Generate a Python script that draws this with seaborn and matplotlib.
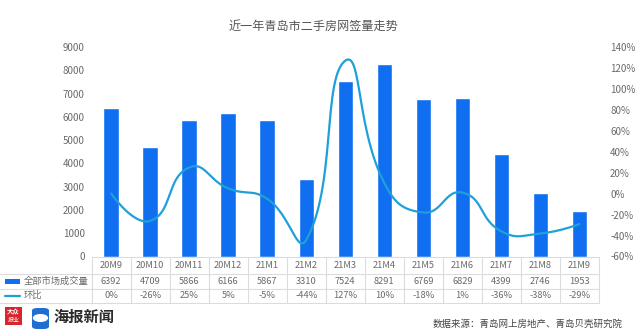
import numpy as np
import pandas as pd
import matplotlib
matplotlib.use("Agg")
import matplotlib.pyplot as plt
import seaborn as sns
from matplotlib.lines import Line2D
from matplotlib.patches import Rectangle, FancyBboxPatch, Circle

# ---- data -------------------------------------------------------------
months = ["20M9", "20M10", "20M11", "20M12", "21M1", "21M2", "21M3",
          "21M4", "21M5", "21M6", "21M7", "21M8", "21M9"]
volumes = [6392, 4709, 5866, 6166, 5867, 3310, 7524, 8291, 6769, 6829, 4399, 2746, 1953]
mom_pct = [0, -26, 25, 5, -5, -44, 127, 10, -18, 1, -36, -38, -29]
left_ticks = list(range(0, 10000, 1000))
right_ticks = list(range(-60, 160, 20))
series_names = ["全部市场成交量", "环比"]
title = "近一年青岛市二手房网签量走势"
source = "数据来源：青岛网上房地产、青岛贝壳研究院"

BAR = "#0f6ff0"
LINE = "#1fa0d8"
GRID = "#dcdcdc"
TXT = "#6a6a6a"

sns.set_theme(style="white")
plt.rcParams["font.family"] = ["Noto Sans CJK SC", "DejaVu Sans"]

W, H = 640, 335
fig = plt.figure(figsize=(W / 100, H / 100), dpi=100)
fig.patch.set_facecolor("white")


def fx(px):
    return px / W


def fy(py):
    return 1 - py / H


# plot area in pixel coordinates
x0, x1 = 91.7, 599.0
ytop, ybot = 47.0, 256.5
ax = fig.add_axes([fx(x0), fy(ybot), fx(x1) - fx(x0), fy(ytop) - fy(ybot)])

df = pd.DataFrame({"month": months, "volume": volumes, "pct": mom_pct})
sns.barplot(data=df, x="month", y="volume", color=BAR, saturation=1,
            width=0.4, ax=ax)
ax.set_xlim(-0.5, len(months) - 0.5)
ax.set_ylim(0, 9000)
ax.set_yticks(left_ticks)
ax.set_yticklabels([str(t) for t in left_ticks])
ax.set_xticks([])
ax.set_xlabel("")
ax.set_ylabel("")
ax.tick_params(axis="y", length=0, pad=5, labelsize=7, labelcolor=TXT)
for s in ax.spines.values():
    s.set_visible(False)

ax2 = ax.twinx()
ax2.set_ylim(-60, 140)
ax2.set_xlim(-0.5, len(months) - 0.5)
ax2.set_yticks(right_ticks)
ax2.set_yticklabels([f"{t}%" for t in right_ticks])
ax2.tick_params(axis="y", length=0, pad=8, labelsize=7, labelcolor=TXT)
for s in ax2.spines.values():
    s.set_visible(False)


def smooth_curve(xs, ys, trans, smooth=0.5, n=30):
    """Bezier-smoothed polyline through the points, built in screen space."""
    pts = trans.transform(np.column_stack([xs, ys]))
    cp0 = pts.copy()
    cp1 = pts.copy()
    for i in range(1, len(pts) - 1):
        prev, cur, nxt = pts[i - 1], pts[i], pts[i + 1]
        v = nxt - prev
        l0 = np.hypot(*(cur - prev))
        l1 = np.hypot(*(nxt - cur))
        r = l1 / (l0 + l1)
        cp0[i] = cur - v * smooth * (1 - r)
        cp1[i] = cur + v * smooth * r
    t = np.linspace(0, 1, n)[:, None]
    out = []
    for i in range(len(pts) - 1):
        p0, p1, p2, p3 = pts[i], cp1[i], cp0[i + 1], pts[i + 1]
        seg = ((1 - t) ** 3) * p0 + 3 * ((1 - t) ** 2) * t * p1 \
            + 3 * (1 - t) * t ** 2 * p2 + t ** 3 * p3
        out.append(seg if i == 0 else seg[1:])
    out = np.vstack(out)
    return trans.inverted().transform(out)


curve = smooth_curve(np.arange(len(months)), np.array(mom_pct, float), ax2.transData)
sns.lineplot(x=curve[:, 0], y=curve[:, 1], sort=False, estimator=None,
             color=LINE, linewidth=1.6, ax=ax2)
ax2.set_ylabel("")

# ---- title ------------------------------------------------------------
fig.text(fx(313), fy(26), title, ha="center", va="center",
         fontsize=8.7, color="#555555")

# ---- data table under the axis -----------------------------------------
cw = (x1 - x0) / len(months)
row_lines = [257.0, 274.0, 288.5, 303.0]
row_centers = [(row_lines[i] + row_lines[i + 1]) / 2 for i in range(3)]

for y in row_lines:
    fig.add_artist(Line2D([fx(0 if y > 258 else x0), fx(x1)], [fy(y), fy(y)],
                          color=GRID, linewidth=0.8))
for k in range(len(months) + 1):
    xx = x0 + k * cw
    fig.add_artist(Line2D([fx(xx), fx(xx)], [fy(row_lines[0]), fy(row_lines[-1])],
                          color=GRID, linewidth=0.8))

for i, m in enumerate(months):
    cx = x0 + (i + 0.5) * cw
    fig.text(fx(cx), fy(row_centers[0]), m, ha="center", va="center",
             fontsize=6.7, color=TXT)
    fig.text(fx(cx), fy(row_centers[1]), str(volumes[i]), ha="center",
             va="center", fontsize=6.7, color=TXT)
    fig.text(fx(cx), fy(row_centers[2]), f"{mom_pct[i]}%", ha="center",
             va="center", fontsize=6.7, color=TXT)

# series keys in the table's first column
fig.add_artist(Rectangle((fx(5), fy(row_centers[1] + 2.5)), fx(15) - fx(0), 5 / H,
                         facecolor=BAR, edgecolor="none"))
fig.add_artist(Line2D([fx(5), fx(20)], [fy(row_centers[2]), fy(row_centers[2])],
                      color=LINE, linewidth=1.6))
fig.text(fx(24), fy(row_centers[1]), series_names[0], ha="left", va="center",
         fontsize=6.7, color=TXT)
fig.text(fx(24), fy(row_centers[2]), series_names[1], ha="left", va="center",
         fontsize=6.7, color=TXT)

# ---- footer: brand marks and source ------------------------------------
fig.add_artist(FancyBboxPatch((fx(5), fy(325)), fx(17) - fx(0), 18 / H,
                              boxstyle="square,pad=0", facecolor="#d8252b",
                              edgecolor="none"))
fig.text(fx(13.5), fy(312), "大众", ha="center", va="center", fontsize=4.6,
         color="white", fontweight="bold")
fig.text(fx(13.5), fy(320.5), "报业", ha="center", va="center", fontsize=4.3,
         color="white")
fig.add_artist(FancyBboxPatch((fx(32), fy(329)), fx(17) - fx(0), 21 / H,
                              boxstyle="round,pad=0,rounding_size=0.008",
                              facecolor="#1f6fd0", edgecolor="none"))
fig.add_artist(Circle((fx(40.5), fy(318)), 0.012, transform=fig.transFigure,
                      facecolor="white", edgecolor="none"))
fig.text(fx(53), fy(317), "海报新闻", ha="left", va="center", fontsize=11,
         color="#2b2b2b", fontweight="bold")

fig.text(fx(433), fy(324), source, ha="left", va="center", fontsize=6.8,
         color="#444444")

fig.savefig("out.png", dpi=100, facecolor="white")
